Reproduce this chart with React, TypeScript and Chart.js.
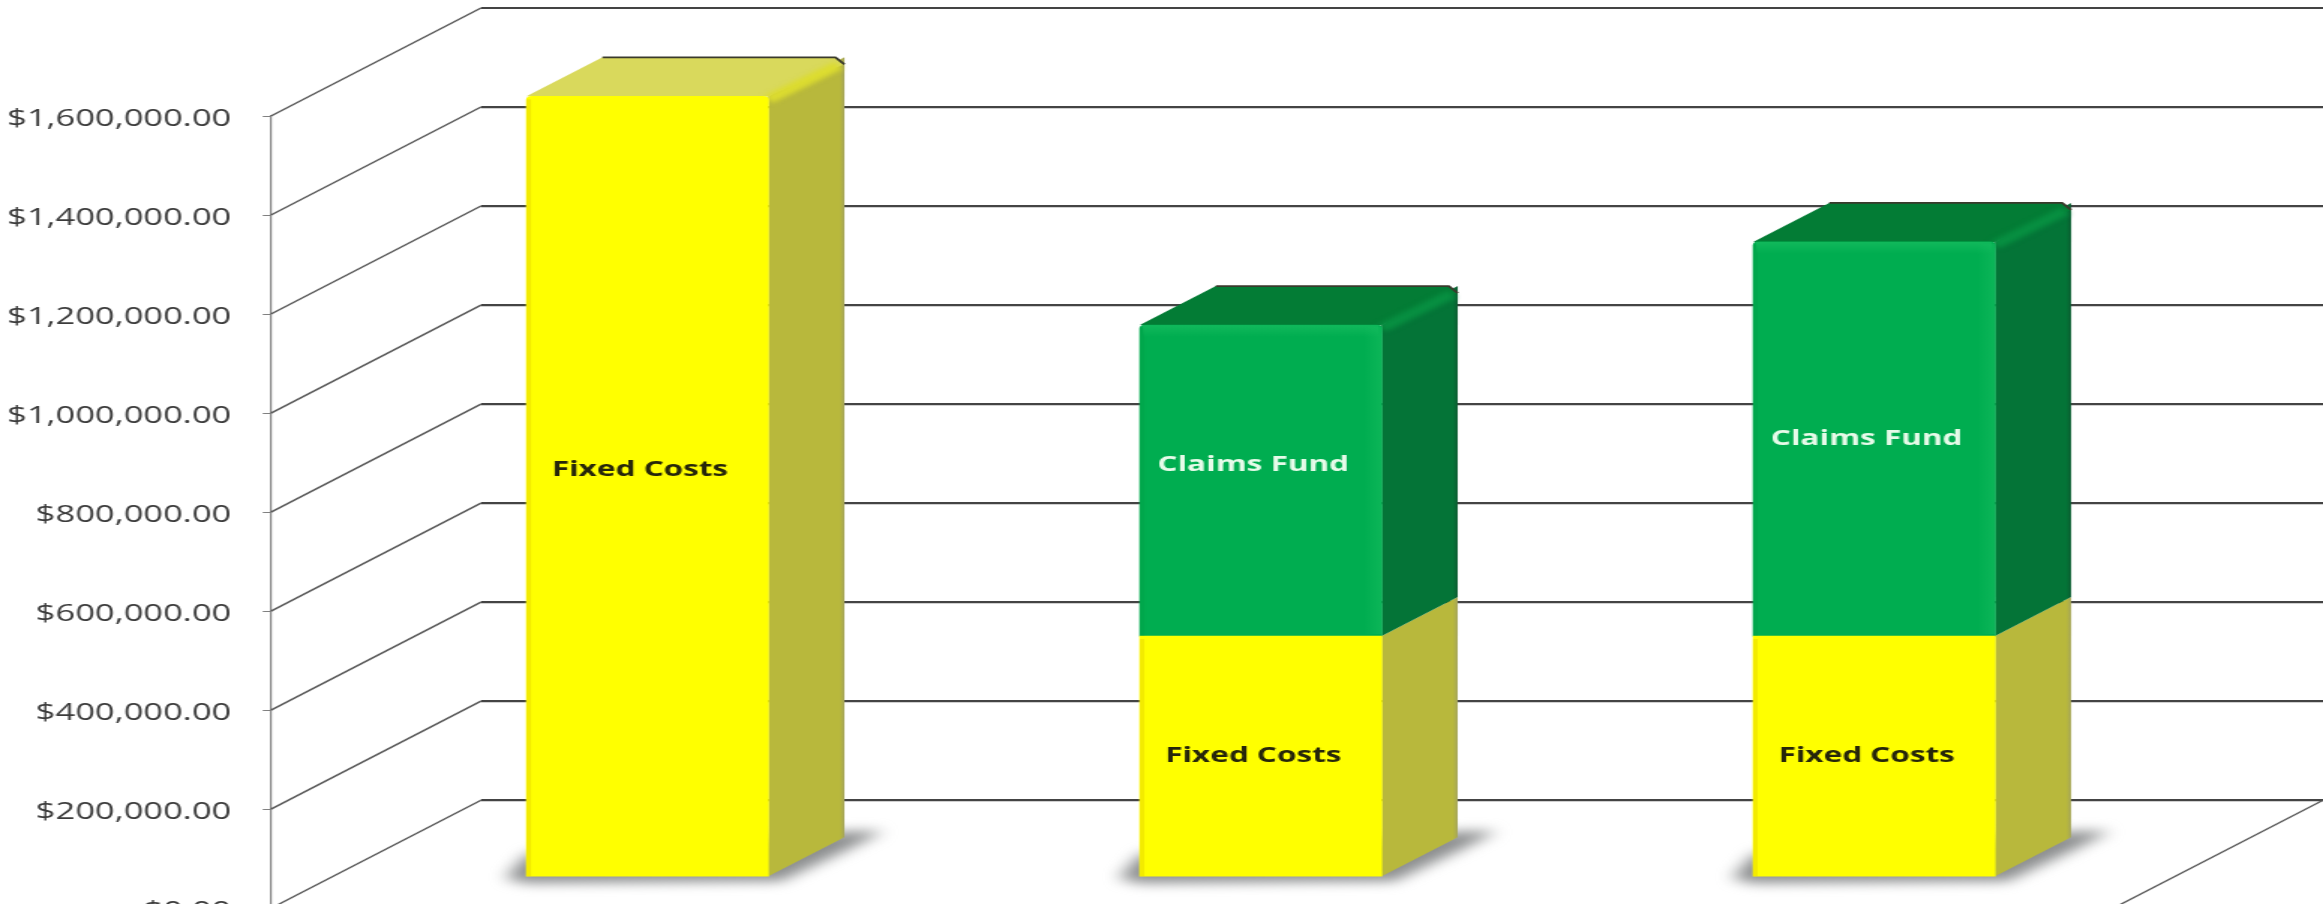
import React, { useEffect, useRef } from "react";
import { Chart, registerables } from "chart.js";

Chart.register(...registerables);

// Series, in dollars. The first column has no claims fund.
const columns = ["Column 1", "Column 2", "Column 3"];
const fixedCosts = [1575000, 485000, 485000];
const claimsFund = [null, 628000, 796000];
const yTicks = [0, 200000, 400000, 600000, 800000, 1000000, 1200000, 1400000, 1600000];

const SERIES_NAMES = ["Fixed Costs", "Claims Fund"];

// Page and drawing surface; the canvas is widened horizontally by CSS.
const PAGE_W = 2323;
const PAGE_H = 904;
const CANVAS_W = 1549;
const CANVAS_H = 943;
const WIDEN = PAGE_W / CANVAS_W;

// Perspective offsets for the floor, the wall and the box faces.
const WALL_DX = 140;
const WALL_DY = 108;
const BOX_DX = 50.7;
const BOX_DY = 39;
const VALUE_PER_PX = 200000 / 99;
const BOX_PLANE_LIFT = 32 * VALUE_PER_PX;

const PALETTE = [
  { front: "#ffff00", top: "#d9d95c", side: "#b8b83c", edge: "rgba(214,190,0,0.3)", text: "#26260a" },
  { front: "#00ad50", top: "#037c35", side: "#047437", edge: "rgba(0,120,50,0.12)", text: "#e6fbe9" },
];

// Small upward nudges of the in-bar captions, per series and column.
const CAPTION_LIFT = [[16, 0, 0], [0, 16, 0]];

function poly(ctx: CanvasRenderingContext2D, pts: number[][]) {
  ctx.beginPath();
  pts.forEach(([x, y], i) => (i ? ctx.lineTo(x, y) : ctx.moveTo(x, y)));
  ctx.closePath();
}

// Back wall, floor edge and the diagonals running from the axis to the wall.
const wallPlugin = {
  id: "wall",
  beforeDatasetsDraw(chart: any) {
    const { ctx, chartArea } = chart;
    const y = chart.scales.y;
    ctx.save();
    yTicks.forEach((v) => {
      const py = y.getPixelForValue(v);
      const wx = chartArea.left + WALL_DX;
      const wy = py - WALL_DY;
      ctx.strokeStyle = "#565656";
      ctx.lineWidth = 1.4;
      ctx.beginPath();
      ctx.moveTo(chartArea.left, py);
      ctx.lineTo(wx, wy);
      ctx.stroke();
      ctx.strokeStyle = "#444444";
      ctx.lineWidth = 2.2;
      ctx.beginPath();
      ctx.moveTo(wx, wy);
      ctx.lineTo(chartArea.right, wy);
      ctx.stroke();
    });
    const floorY = y.getPixelForValue(0);
    ctx.strokeStyle = "#565656";
    ctx.lineWidth = 1.4;
    ctx.beginPath();
    ctx.moveTo(chartArea.right - WALL_DX, floorY);
    ctx.lineTo(chartArea.right, floorY - WALL_DY);
    ctx.stroke();
    ctx.restore();
  },
};

// Side and top faces of each box plus the soft shadow on the floor.
const boxPlugin = {
  id: "boxes",
  beforeDatasetsDraw(chart: any) {
    const { ctx } = chart;
    const first = chart.getDatasetMeta(0).data;
    ctx.save();
    ctx.filter = "blur(6px)";
    ctx.fillStyle = "#8c8e8f";
    first.forEach((el: any) => {
      const l = el.x - el.width / 2;
      const r = el.x + el.width / 2;
      const b = el.base;
      poly(ctx, [
        [l - 14, b + 2],
        [l, b - 22],
        [r + BOX_DX + 4, b - BOX_DY - 6],
        [r + BOX_DX + 26, b - BOX_DY - 6],
        [r + BOX_DX, b - BOX_DY + 14],
        [r + 8, b + 5],
        [l, b + 7],
      ]);
      ctx.fill();
    });
    ctx.restore();

    ctx.save();
    chart.data.datasets.forEach((_ds: any, d: number) => {
      const colors = PALETTE[d];
      chart.getDatasetMeta(d).data.forEach((el: any, i: number) => {
        if (chart.data.datasets[d].data[i].y == null) return;
        const l = el.x - el.width / 2;
        const r = el.x + el.width / 2;
        const t = el.y;
        const b = el.base;
        const sideGrad = ctx.createLinearGradient(r, 0, r + BOX_DX, 0);
        sideGrad.addColorStop(0, colors.side);
        sideGrad.addColorStop(0.94, colors.side);
        sideGrad.addColorStop(1, d === 0 ? "#a4a45c" : "#0c5a30");
        ctx.fillStyle = sideGrad;
        poly(ctx, [
          [r, t],
          [r + BOX_DX, t - BOX_DY],
          [r + BOX_DX, b - BOX_DY],
          [r, b],
        ]);
        ctx.fill();

        const onTop = d === chart.data.datasets.length - 1 || chart.data.datasets[d + 1].data[i].y == null;
        if (onTop) {
          ctx.fillStyle = colors.top;
          poly(ctx, [
            [l, t],
            [l + BOX_DX, t - BOX_DY],
            [r + BOX_DX - 6, t - BOX_DY],
            [r + BOX_DX, t - BOX_DY + 7],
            [r, t],
          ]);
          ctx.fill();
          // Lit front-right bevel, then the dark rim along the back of the top face.
          ctx.save();
          ctx.filter = "blur(2px)";
          ctx.strokeStyle = d === 0 ? "#dcdc30" : "#078f41";
          ctx.lineWidth = 9;
          ctx.beginPath();
          ctx.moveTo(r, t + 3);
          ctx.lineTo(r + BOX_DX - 4, t - BOX_DY + 8);
          ctx.stroke();
          ctx.restore();
          ctx.strokeStyle = "#3a3a2c";
          ctx.lineWidth = 1.8;
          ctx.lineJoin = "round";
          ctx.beginPath();
          ctx.moveTo(l + BOX_DX, t - BOX_DY);
          ctx.lineTo(r + BOX_DX - 6, t - BOX_DY);
          ctx.lineTo(r + BOX_DX, t - BOX_DY + 7);
          ctx.stroke();
        }
      });
    });
    ctx.restore();
  },
  afterDatasetsDraw(chart: any) {
    const { ctx } = chart;
    ctx.save();
    chart.data.datasets.forEach((_ds: any, d: number) => {
      const colors = PALETTE[d];
      chart.getDatasetMeta(d).data.forEach((el: any, i: number) => {
        if (chart.data.datasets[d].data[i].y == null) return;
        const l = el.x - el.width / 2;
        const r = el.x + el.width / 2;
        ctx.fillStyle = colors.edge;
        ctx.fillRect(l, el.y + 3, 3, el.base - el.y - 3);
        if (d === 1) {
          // Faint bevel glow along the top and right of the green front face.
          const topGlow = ctx.createLinearGradient(0, el.y, 0, el.y + 12);
          topGlow.addColorStop(0, "rgba(24,190,96,0.7)");
          topGlow.addColorStop(1, "rgba(24,190,96,0)");
          ctx.fillStyle = topGlow;
          ctx.fillRect(l + 2, el.y, el.width - 4, 12);
          const rightGlow = ctx.createLinearGradient(r - 12, 0, r, 0);
          rightGlow.addColorStop(0, "rgba(24,190,96,0)");
          rightGlow.addColorStop(1, "rgba(24,190,96,0.5)");
          ctx.fillStyle = rightGlow;
          ctx.fillRect(r - 12, el.y + 2, 12, el.base - el.y - 4);
        }
        const lift = CAPTION_LIFT[d][i];
        ctx.font = "bold 21px 'Open Sans'";
        ctx.textAlign = "center";
        ctx.textBaseline = "middle";
        ctx.fillStyle = colors.text;
        ctx.fillText(SERIES_NAMES[d], el.x - 5, (el.y + el.base) / 2 - lift);
      });
    });
    ctx.restore();
  },
};

export default function App() {
  const ref = useRef<HTMLCanvasElement>(null);

  useEffect(() => {
    const chart = new Chart(ref.current as HTMLCanvasElement, {
      type: "bar",
      data: {
        datasets: [fixedCosts, claimsFund].map((series, d) => ({
          label: SERIES_NAMES[d],
          data: series.map((v, i) => ({ x: i, y: v, column: columns[i] })),
          backgroundColor: PALETTE[d].front,
          borderRadius: 4,
          barThickness: 161.3,
          yAxisID: "bars",
          clip: false as any,
          stack: "cost",
        })),
      },
      plugins: [wallPlugin, boxPlugin],
      options: {
        responsive: false,
        animation: false,
        devicePixelRatio: 1,
        layout: { padding: { top: 116, bottom: 4, left: 0, right: 0 } },
        plugins: { legend: { display: false }, tooltip: { enabled: false }, title: { display: false } },
        scales: {
          x: {
            type: "linear",
            display: false,
            offset: false,
            stacked: true,
            min: -0.6137,
            max: 2.7318,
          },
          // The labelled axis sits on the front edge of the floor.
          y: {
            type: "linear",
            position: "left",
            min: 0,
            max: 1600000,
            afterFit: (s: any) => {
              s.width = 180.7;
            },
            afterBuildTicks: (s: any) => {
              s.ticks = yTicks.map((value) => ({ value }));
            },
            grid: { display: true, drawOnChartArea: false, drawTicks: true, tickLength: 5.5, color: "#808080" },
            border: { display: true, color: "#808080", width: 1.2 },
            ticks: {
              color: "#3b3b3b",
              padding: 21,
              labelOffset: 3,
              font: { family: "'Open Sans'", size: 23 },
              callback: (v: any) =>
                "$" + Number(v).toLocaleString("en-US", { minimumFractionDigits: 2, maximumFractionDigits: 2 }),
            },
          },
          // Box fronts stand further back on the floor, so their zero sits higher.
          bars: {
            type: "linear",
            display: false,
            stacked: true,
            min: -BOX_PLANE_LIFT,
            max: 1600000 - BOX_PLANE_LIFT,
          },
        },
      } as any,
    } as any);
    return () => chart.destroy();
  }, []);

  return (
    <div
      style={{
        position: "fixed",
        left: 0,
        top: 0,
        width: PAGE_W,
        height: PAGE_H,
        overflow: "hidden",
        background: "#ffffff",
      }}
    >
      <canvas
        ref={ref}
        width={CANVAS_W}
        height={CANVAS_H}
        style={{ display: "block", transform: `scaleX(${WIDEN})`, transformOrigin: "0 0" }}
      />
    </div>
  );
}
